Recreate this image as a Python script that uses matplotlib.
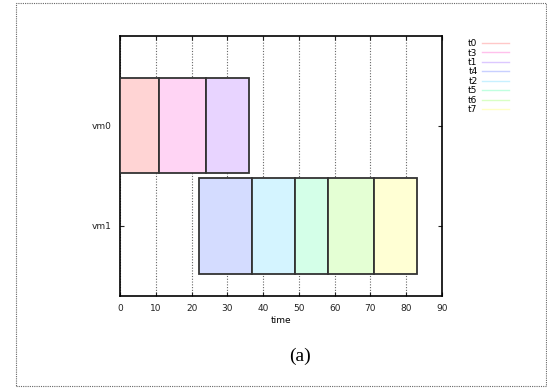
import matplotlib
matplotlib.use("Agg")
import matplotlib.pyplot as plt
from matplotlib.patches import Rectangle
from matplotlib.lines import Line2D

# schedule: which vm runs which task, start and end time
vms = ["vm0", "vm1"]
tasks = ["t0", "t3", "t1", "t4", "t2", "t5", "t6", "t7"]
task_vm = ["vm0", "vm0", "vm0", "vm1", "vm1", "vm1", "vm1", "vm1"]
starts = [0, 11, 24, 22, 37, 49, 58, 71]
ends = [11, 24, 36, 37, 49, 58, 71, 83]
colors = ["#ffd4d4", "#ffd4f4", "#e8d4ff", "#d4dcff",
          "#d4f4ff", "#d4ffe8", "#e4ffd4", "#ffffd4"]
legend_colors = ["#ffc8c8", "#ffc0ec", "#dcc8ff", "#c8d0ff",
                 "#c8f0ff", "#c0ffe0", "#d8ffc4", "#ffffc4"]
xticks = list(range(0, 91, 10))

W, H = 547, 389
fig = plt.figure(figsize=(W / 100, H / 100), dpi=100)
ax = fig.add_axes([120 / W, 1 - 296 / H, (442 - 120) / W, (296 - 36) / H])

ypos = {"vm0": 1, "vm1": 0}
for t, vm, s, e, c in zip(tasks, task_vm, starts, ends, colors):
    ax.barh(ypos[vm], e - s, left=s, height=0.95, color=c,
            edgecolor="#333333", linewidth=1.3, zorder=3)

ax.set_xlim(0, 90)
ax.set_ylim(-0.7, 1.9)
ax.set_xticks(xticks)
ax.set_yticks([ypos[v] for v in vms])
ax.set_yticklabels(vms)
ax.grid(axis="x", linestyle=(0, (1, 1.5)), color="#666666", linewidth=0.8, zorder=1)
ax.tick_params(direction="in", top=True, right=True, labelsize=6.5, length=3,
               colors="#222222", pad=6)
for sp in ax.spines.values():
    sp.set_linewidth(1.2)
ax.set_xlabel("time", fontsize=6.5, labelpad=2)

handles = [Line2D([], [], color=c, lw=1.0) for c in legend_colors]
leg = fig.legend(handles, tasks, loc="upper left", bbox_to_anchor=(460 / W, 1 - 31 / H),
                 frameon=False, fontsize=6.5, handlelength=3.0, handletextpad=0.5,
                 labelspacing=0.05, markerfirst=False)
for txt in leg.get_texts():
    txt.set_ha("left")

fig.text(300 / W, 1 - 356 / H, "(a)", ha="center", va="center",
         fontsize=14, family="Liberation Serif")

# dotted frame around the whole panel
fig.patches.append(Rectangle((16 / W, 3 / H), (546 - 16) / W, (386 - 3) / H,
                             transform=fig.transFigure, fill=False,
                             linestyle=(0, (1, 1)), edgecolor="#666666", linewidth=0.8))

fig.savefig("out.png", dpi=100)
